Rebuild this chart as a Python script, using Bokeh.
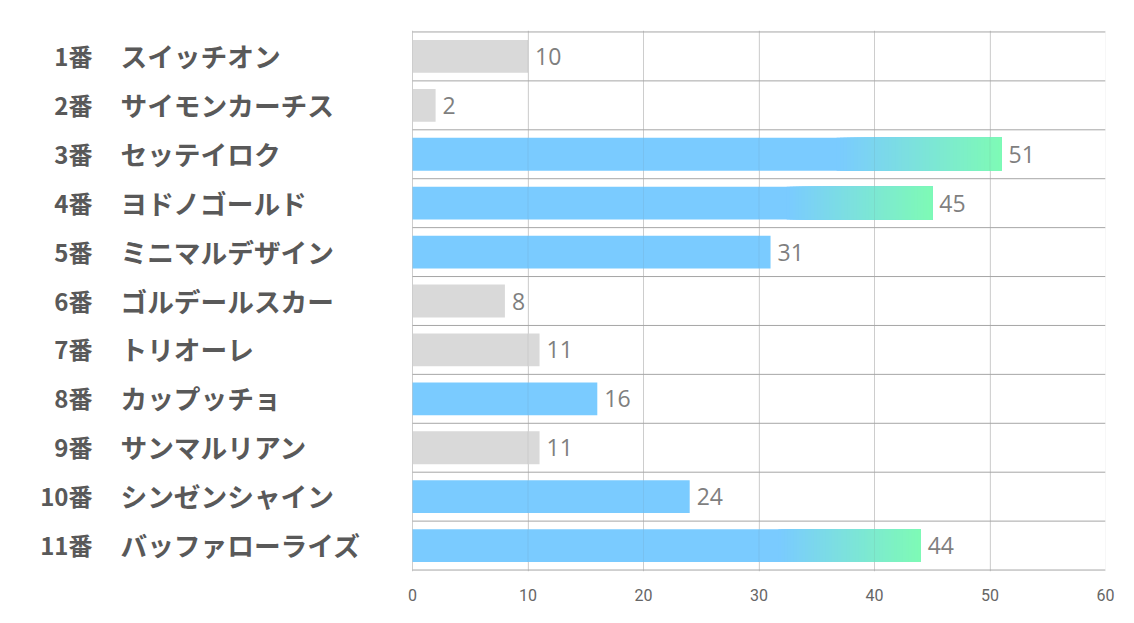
from bokeh.plotting import figure
from bokeh.models import Range1d, FixedTicker
from bokeh.core.properties import value
from bokeh.embed import file_html
from bokeh.resources import INLINE

# ---- data ----
numbers = ["1番", "2番", "3番", "4番", "5番", "6番", "7番", "8番", "9番", "10番", "11番"]
names = ["スイッチオン", "サイモンカーチス", "セッテイロク", "ヨドノゴールド", "ミニマルデザイン",
         "ゴルデールスカー", "トリオーレ", "カップッチョ", "サンマルリアン", "シンゼンシャイン",
         "バッファローライズ"]
votes = [10, 2, 51, 45, 31, 8, 11, 16, 11, 24, 44]
x_ticks = [0, 10, 20, 30, 40, 50, 60]

# ---- layout constants ----
PX_PER_UNIT = (1105 - 412) / 60.0
X_LEFT = -(412 - 16) / PX_PER_UNIT
PAD = 0.03

p = figure(width=1126, height=615, output_backend="svg", toolbar_location=None, title=None,
           x_range=Range1d(X_LEFT, 60), y_range=Range1d(len(votes) + PAD, -PAD),
           y_axis_location=None, min_border_left=16, min_border_right=21,
           min_border_top=30, min_border_bottom=44)
p.outline_line_color = None
p.background_fill_color = "white"
p.border_fill_color = "white"

# grid
p.xgrid.ticker = FixedTicker(ticks=x_ticks)
p.xgrid.grid_line_color = "#d9d9d9"
p.xgrid.grid_line_width = 1
p.ygrid.visible = False

# axis
ax = p.xaxis[0]
ax.ticker = FixedTicker(ticks=x_ticks)
ax.axis_line_color = None
ax.major_tick_line_color = None
ax.minor_tick_line_color = None
ax.major_label_standoff = 11
ax.major_label_text_font = "Roboto"
ax.major_label_text_font_size = "16px"
ax.major_label_text_color = "#666666"

ys = [i + 0.5 for i in range(len(votes))]
BLUE = (122, 203, 255)
GREEN = (126, 250, 182)
GRAY = "#d9d9d9"

def hexc(c):
    return "#%02x%02x%02x" % tuple(int(round(v)) for v in c)

top3 = sorted(range(len(votes)), key=lambda i: votes[i], reverse=True)[:3]
colors = [GRAY if v < 12 else hexc(BLUE) for v in votes]

BAR_H = 0.67
p.hbar(y=ys, left=0, right=votes, height=BAR_H, fill_color=colors, line_color=None)

# gradient end for top bars (nested opaque slices)
N = 48
gy, gl, gr, gc = [], [], [], []
for i in top3:
    v = votes[i]
    start = 0.72 * v
    for k in range(N):
        t = k / (N - 1)
        gy.append(ys[i])
        gl.append(start + (v - start) * k / N)
        gr.append(v)
        gc.append(hexc(tuple(BLUE[j] + (GREEN[j] - BLUE[j]) * t for j in range(3))))
p.hbar(y=gy, left=gl, right=gr, height=BAR_H, fill_color=gc, line_color=None)

# faint gridlines visible through bars
p.segment(x0=x_ticks, x1=x_ticks, y0=[-PAD] * len(x_ticks), y1=[len(votes) + PAD] * len(x_ticks),
          line_color="#707070", line_alpha=0.10, line_width=1)

# row separators
bounds = list(range(len(votes) + 1))
p.segment(x0=[0] * len(bounds), x1=[60] * len(bounds), y0=bounds, y1=bounds,
          line_color="#a6a6a6", line_width=1)

# value labels
p.text(x=votes, y=ys, text=[str(v) for v in votes], x_offset=7,
       text_font=value("Open Sans"), text_font_size="23px", text_color="#7f7f7f",
       text_align="left", text_baseline="middle")

# left labels
x_num = (92 - 412) / PX_PER_UNIT
x_name = (120 - 412) / PX_PER_UNIT
p.text(x=[x_num] * len(numbers), y=ys, text=numbers, y_offset=-1,
       text_font=value("Noto Sans CJK JP"), text_font_style="bold", text_font_size="24px",
       text_color="#595959", text_align="right", text_baseline="middle")
p.text(x=[x_name] * len(names), y=ys, text=names, y_offset=-1,
       text_font=value("Noto Sans CJK JP"), text_font_style="bold", text_font_size="26.7px",
       text_color="#595959", text_align="left", text_baseline="middle")

open("out.html", "w").write(file_html(p, INLINE))
